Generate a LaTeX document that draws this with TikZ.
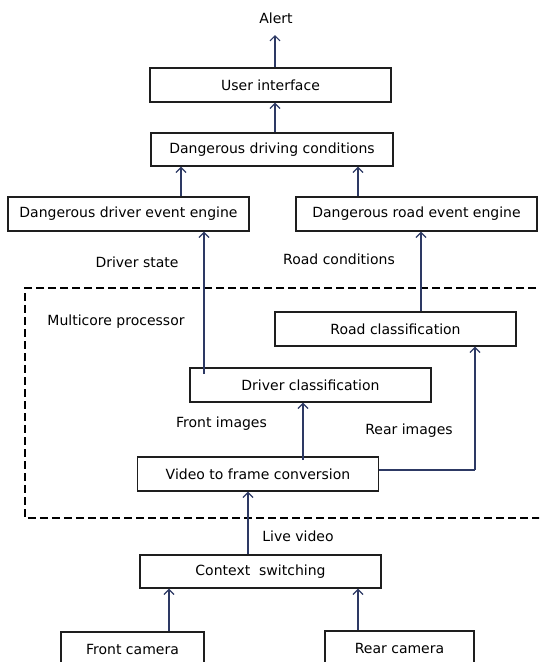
\documentclass[tikz,border=0pt]{standalone}
\usepackage{fontspec}
\setmainfont{DejaVu Sans}
\usetikzlibrary{arrows.meta,calc}
\definecolor{conn}{RGB}{45,57,100}
\definecolor{boxline}{RGB}{30,30,30}
\tikzset{
  blk/.style={draw=boxline, line width=1.4pt, rectangle, minimum width=241pt, minimum height=34pt, inner sep=0pt, font=\fontsize{14}{16}\selectfont},
  lbl/.style={inner sep=0pt, font=\fontsize{14}{16}\selectfont},
  arr/.style={draw=conn, line width=1.5pt, -{Straight Barb[length=5pt,width=10pt,line width=1.2pt]}},
  ln/.style={draw=conn, line width=1.5pt},
}
\begin{document}
\begin{tikzpicture}[x=1pt,y=-1pt]
\useasboundingbox (0,0) rectangle (539,662);
\begin{scope}
\clip (0,0) rectangle (539,662);
% dashed processor region
\draw[line width=1.3pt, dash pattern=on 8pt off 4pt] (560,288) -- (25,288) -- (25,518) -- (560,518);
\node[lbl] (alert) at (276,18) {Alert};
\node[blk] (ui) at (270.5,85) {User interface};
\node[blk, minimum width=242pt, minimum height=33pt] (ddc) at (272,149.5) {Dangerous driving conditions};
\node[blk] (ddee) at (128.5,214) {Dangerous driver event engine};
\node[blk] (dree) at (416.5,214) {Dangerous road event engine};
\node[lbl] (dstate) at (137,262) {Driver state};
\node[lbl] (rcond) at (339,259) {Road conditions};
\node[lbl] (mcp) at (116,322) {Multicore processor};
\node[blk] (rc) at (395.5,329) {Road classification};
\node[blk] (dc) at (310.5,385) {Driver classification};
\node[lbl] (fimg) at (221.5,424) {Front images};
\node[lbl] (rimg) at (409,431) {Rear images};
\node[blk, minimum width=241.5pt] (vfc) at (258,474) {Video to frame conversion};
\node[lbl] (live) at (298,536) {Live video};
\node[blk, minimum height=33pt] (cs) at (260.5,571.5) {Context~~switching};
\node[blk, minimum width=143pt] (fcam) at (132.5,649) {Front camera};
\node[blk, minimum width=149pt] (rcam) at (399.5,648) {Rear camera};
% connectors
\draw[arr] (ui.north -| 275,0) -- (275,35);
\draw[arr] (ddc.north -| 275,0) -- (ui.south -| 275,0);
\draw[arr] (ddee.north -| 181,0) -- (ddc.south -| 181,0);
\draw[arr] (dree.north -| 358,0) -- (ddc.south -| 358,0);
\draw[arr] (204,374) -- (ddee.south -| 204,0);
\draw[arr] (rc.north -| 421,0) -- (dree.south -| 421,0);
\draw[arr] (303,460) -- (dc.south -| 303,0);
\draw[ln] (vfc.east |- 0,470) -- (475,470);
\draw[arr] (475,470) -- (rc.south -| 475,0);
\draw[arr] (cs.north -| 248,0) -- (vfc.south -| 248,0);
\draw[arr] (fcam.north -| 169,0) -- (cs.south -| 169,0);
\draw[arr] (rcam.north -| 358,0) -- (cs.south -| 358,0);
\end{scope}
\end{tikzpicture}
\end{document}
